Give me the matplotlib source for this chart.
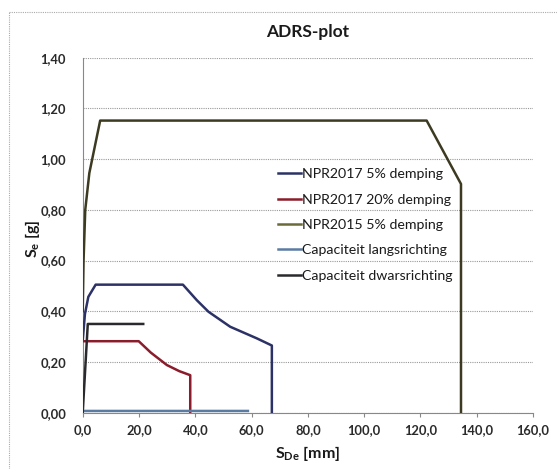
import matplotlib
matplotlib.use("Agg")
import matplotlib.pyplot as plt
from matplotlib.lines import Line2D

plt.rcParams['font.family'] = ['Lato', 'DejaVu Sans']
plt.rcParams['mathtext.fontset'] = 'custom'
plt.rcParams['mathtext.rm'] = 'Lato'
plt.rcParams['mathtext.bf'] = 'Lato:bold'

# NPR2017 5% demping
npr17_5_x = [0.0, 0.8, 2.0, 4.6, 35.6, 40.6, 44.7, 52.4, 61.9, 67.2, 67.2]
npr17_5_y = [0.285, 0.39, 0.457, 0.505, 0.505, 0.443, 0.398, 0.339, 0.293, 0.265, 0.0]

# NPR2017 20% demping
npr17_20_x = [0.0, 19.9, 24.2, 29.9, 34.3, 38.2, 38.2]
npr17_20_y = [0.282, 0.282, 0.237, 0.188, 0.164, 0.148, 0.0]

# NPR2015 5% demping
npr15_x = [0.0, 0.3, 0.9, 2.35, 6.2, 122.2, 134.4, 134.4]
npr15_y = [0.40, 0.60, 0.80, 0.945, 1.152, 1.152, 0.902, 0.0]

# Capaciteit langsrichting
lang_x = [0.0, 0.1, 58.7]
lang_y = [0.0, 0.007, 0.007]

# Capaciteit dwarsrichting
dwars_x = [0.0, 1.8, 21.5]
dwars_y = [0.0, 0.35, 0.35]

labels = ["NPR2017 5% demping", "NPR2017 20% demping", "NPR2015 5% demping",
          "Capaciteit langsrichting", "Capaciteit dwarsrichting"]
colors = ["#2c3266", "#8a1c2b", "#3d3a22", "#5a7ca3", "#2a2a2e"]
legend_colors = ["#2c3266", "#8a1c2b", "#6b6a3a", "#5a7ca3", "#2a2a2e"]

xticks = [0, 20, 40, 60, 80, 100, 120, 140, 160]
yticks = [0.0, 0.2, 0.4, 0.6, 0.8, 1.0, 1.2, 1.4]

fig = plt.figure(figsize=(5.57, 4.69), dpi=100)
ax = fig.add_axes([0.1485, 0.12, 0.8085, 0.757])

lw = 1.8
ax.plot(npr15_x, npr15_y, color=colors[2], lw=lw, zorder=3)
ax.plot(npr17_5_x, npr17_5_y, color=colors[0], lw=lw, zorder=4)
ax.plot(npr17_20_x, npr17_20_y, color=colors[1], lw=lw, zorder=4)
ax.plot(lang_x, lang_y, color=colors[3], lw=lw, zorder=5)
ax.plot(dwars_x, dwars_y, color=colors[4], lw=lw, zorder=5)

ax.set_xlim(0, 160)
ax.set_ylim(0, 1.4)
ax.set_xticks(xticks)
ax.set_yticks(yticks)
ax.set_xticklabels([f"{v:.1f}".replace(".", ",") for v in xticks])
ax.set_yticklabels([f"{v:.2f}".replace(".", ",") for v in yticks])
for lab in ax.get_xticklabels() + ax.get_yticklabels():
    lab.set_fontweight("bold")
    lab.set_fontsize(9.3)
    lab.set_color("#2a2a2a")

ax.grid(axis="y", color="#999999", linestyle=(0, (1, 1)), linewidth=0.8)
ax.set_axisbelow(True)
for s in ["top", "right"]:
    ax.spines[s].set_visible(False)
for s in ["left", "bottom"]:
    ax.spines[s].set_color("#888888")
    ax.spines[s].set_linewidth(0.8)
ax.tick_params(axis="x", direction="out", length=3, color="#888888", pad=5)
ax.tick_params(axis="y", length=0, pad=12)

ax.set_title("ADRS-plot", fontsize=12.5, fontweight="bold", color="#1a1a1a", pad=15)
ax.set_xlabel(r"S$_{\mathbf{De}}$ [mm]", fontsize=11.5, fontweight="bold", color="#1a1a1a")
ax.set_ylabel(r"S$_{\mathbf{e}}$ [g]", fontsize=11.5, fontweight="bold", color="#1a1a1a")
ax.xaxis.set_label_coords(0.5, -0.088)
ax.yaxis.set_label_coords(-0.09, 0.49)

handles = [Line2D([0], [0], color=c, lw=lw) for c in legend_colors]
ax.legend(handles, labels, loc="upper left", bbox_to_anchor=(0.405, 0.725),
          frameon=False, fontsize=10.2, handlelength=1.6, handletextpad=0.1,
          labelspacing=0.95, labelcolor="#1a1a1a")

# dotted chart-area border
fig.add_artist(Line2D([9 / 557, 1.0], [1 - 12 / 469, 1 - 12 / 469],
                      transform=fig.transFigure, color="#aaaaaa", lw=0.8, ls=(0, (1, 1))))
fig.add_artist(Line2D([9 / 557, 9 / 557], [0.0, 1 - 12 / 469],
                      transform=fig.transFigure, color="#aaaaaa", lw=0.8, ls=(0, (1, 1))))

fig.savefig("out.png", dpi=100)
